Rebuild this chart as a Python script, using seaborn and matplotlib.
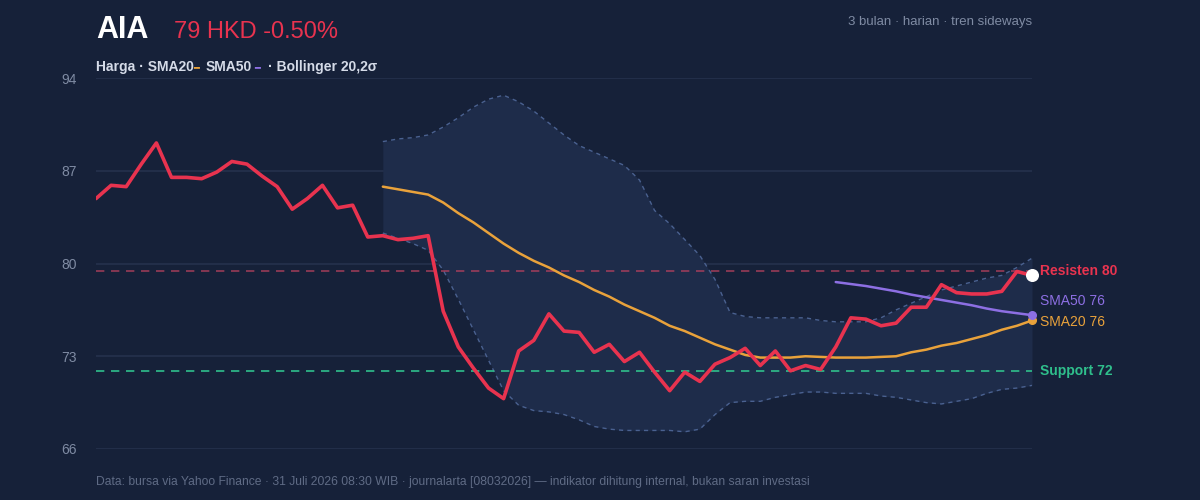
import numpy as np
import pandas as pd
import matplotlib
matplotlib.use('Agg')
import matplotlib.pyplot as plt
import seaborn as sns

sns.set_style('white')
plt.rcParams['font.family'] = ['Liberation Sans', 'DejaVu Sans']

BG = '#162139'
RED = '#e8334f'
ORANGE = '#e9a23b'
PURPLE = '#8d6fe3'
GREEN = '#2fbf8c'
MUTED = '#7f8ba3'

price = [84.9, 85.9, 85.8, 87.5, 89.1, 86.5, 86.5, 86.4, 86.9, 87.7,
         87.5, 86.6, 85.8, 84.1, 84.9, 85.9, 84.2, 84.4, 82.0, 82.1,
         81.8, 81.9, 82.1, 76.4, 73.7, 72.1, 70.6, 69.8, 73.4, 74.2,
         76.2, 74.9, 74.8, 73.3, 73.9, 72.6, 73.3, 71.8, 70.4, 71.8,
         71.1, 72.4, 72.9, 73.6, 72.3, 73.4, 71.9, 72.3, 72.0, 73.7,
         75.9, 75.8, 75.3, 75.5, 76.7, 76.7, 78.4, 77.8, 77.7, 77.7,
         77.9, 79.4, 79.1]
sma20 = [85.8, 85.6, 85.4, 85.2, 84.6, 83.8, 83.1, 82.3, 81.5, 80.8,
         80.2, 79.7, 79.1, 78.6, 78.0, 77.5, 76.9, 76.4, 75.9, 75.3,
         74.9, 74.4, 73.9, 73.5, 73.1, 72.9, 72.9, 72.9, 73.0, 72.95,
         72.9, 72.9, 72.9, 72.95, 73.0, 73.3, 73.5, 73.8, 74.0, 74.3,
         74.6, 75.0, 75.3, 75.7]
sma50 = [78.6, 78.45, 78.3, 78.1, 77.9, 77.65, 77.45, 77.25, 77.05, 76.85,
         76.6, 76.4, 76.25, 76.1]
bb_upper = [89.2, 89.4, 89.5, 89.7, 90.3, 91.0, 91.8, 92.4, 92.7, 92.2,
            91.5, 90.6, 89.7, 88.9, 88.4, 87.9, 87.4, 86.3, 84.0, 83.0,
            81.8, 80.6, 78.8, 76.3, 76.0, 75.9, 75.9, 75.9, 75.9, 75.7,
            75.6, 75.6, 75.6, 75.9, 76.5, 77.0, 77.5, 78.0, 78.3, 78.6,
            78.9, 79.1, 79.7, 80.4]
bb_lower = [82.3, 81.9, 81.5, 81.0, 79.5, 77.3, 75.0, 72.7, 70.4, 69.3,
            68.9, 68.8, 68.6, 68.2, 67.7, 67.5, 67.4, 67.4, 67.4, 67.4,
            67.3, 67.5, 68.6, 69.5, 69.6, 69.6, 69.9, 70.1, 70.3, 70.3,
            70.2, 70.2, 70.2, 70.0, 69.9, 69.7, 69.5, 69.4, 69.6, 69.8,
            70.2, 70.5, 70.6, 70.8]
resistance = 79.4
support = 71.9
yticks = [66, 73, 80, 87, 94]

n = len(price)
x = np.arange(n)
x20 = x[n - len(sma20):]
x50 = x[n - len(sma50):]

fig = plt.figure(figsize=(12, 5), dpi=100, facecolor=BG)
ax = fig.add_axes([0.08, 0.102, 0.78, 0.742])
ax.set_facecolor(BG)

for y in yticks:
    ax.axhline(y, color='#24304b', lw=1.3, zorder=0)

ax.fill_between(x20, bb_lower, bb_upper, color='#1e2c4a', lw=0, zorder=1)
sns.lineplot(x=x20, y=bb_upper, ax=ax, color='#4a6190', lw=1, ls=(0, (3, 3)), zorder=2)
sns.lineplot(x=x20, y=bb_lower, ax=ax, color='#4a6190', lw=1, ls=(0, (3, 3)), zorder=2)

ax.axhline(resistance, color='#b8415e', lw=1.2, ls=(0, (5, 4)), alpha=0.8, zorder=2)
ax.axhline(support, color=GREEN, lw=1.2, ls=(0, (5, 4)), zorder=2)

sns.lineplot(x=x20, y=sma20, ax=ax, color=ORANGE, lw=1.8, zorder=3)
sns.lineplot(x=x50, y=sma50, ax=ax, color=PURPLE, lw=1.8, zorder=3)
sns.lineplot(x=x, y=price, ax=ax, color=RED, lw=2.6, zorder=4)

ax.scatter([x[-1]], [sma20[-1]], s=30, color=ORANGE, zorder=5, clip_on=False)
ax.scatter([x[-1]], [sma50[-1]], s=30, color=PURPLE, zorder=5, clip_on=False)
ax.scatter([x[-1]], [price[-1]], s=70, color='white', zorder=6, clip_on=False)

ax.set_xlim(0, n - 1)
ax.set_ylim(66, 94)
ax.set_yticks(yticks)
ax.set_xticks([])
ax.tick_params(axis='y', length=0, labelsize=10, labelcolor=MUTED, pad=14)
for s in ax.spines.values():
    s.set_visible(False)

lx = n - 1 + 0.55
ax.text(lx, resistance, 'Resisten 80', color=RED, fontsize=10, fontweight='bold', va='center')
ax.text(lx, 77.2, 'SMA50 76', color=PURPLE, fontsize=10, va='center')
ax.text(lx, 75.6, 'SMA20 76', color=ORANGE, fontsize=10, va='center')
ax.text(lx, support, 'Support 72', color=GREEN, fontsize=10, fontweight='bold', va='center')

fig.text(0.08, 0.94, 'AIA', color='white', fontsize=22, fontweight='bold', va='center')
fig.text(0.145, 0.937, '79 HKD -0.50%', color=RED, fontsize=17, va='center')
fig.text(0.86, 0.957, '3 bulan · harian · tren sideways', color=MUTED, fontsize=9.5, ha='right', va='center')
leg_y = 0.866
fig.text(96 / 1200, leg_y, 'Harga · SMA20', color='#d5dbe8', fontsize=10, fontweight='bold', va='center')
fig.text(193 / 1200, leg_y, '━', color=ORANGE, fontsize=7, va='center')
fig.text(206 / 1200, leg_y, 'SMA50', color='#d5dbe8', fontsize=10, fontweight='bold', va='center')
fig.text(254 / 1200, leg_y, '━', color=PURPLE, fontsize=7, va='center')
fig.text(268 / 1200, leg_y, '· Bollinger 20,2σ', color='#d5dbe8', fontsize=10, fontweight='bold', va='center')
fig.text(0.08, 0.036, 'Data: bursa via Yahoo Finance · 31 Juli 2026 08:30 WIB · journalarta [08032026] — indikator dihitung internal, bukan saran investasi',
         color='#5f6b85', fontsize=8.7, va='center')

fig.savefig('out.png', dpi=100, facecolor=BG)
